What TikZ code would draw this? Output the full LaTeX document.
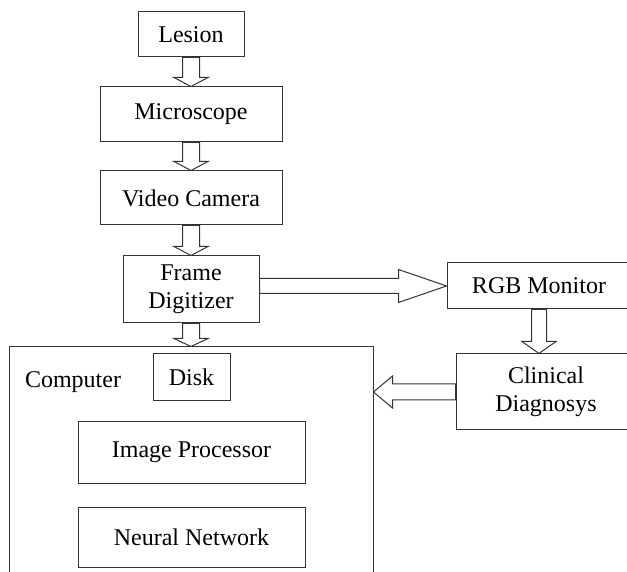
\documentclass[tikz,border=0pt]{standalone}
\usepackage{fontspec}
\setmainfont{Liberation Serif}
\usetikzlibrary{calc}
\tikzstyle{block} = [rectangle, draw=black!80, line width=1pt, align=center, font=\fontsize{24}{28}\selectfont]
\tikzstyle{plain} = [font=\fontsize{24}{28}\selectfont]
% hollow block arrow: {shaft half width}{head half width}{head length}
\tikzset{hollow/.style n args={3}{draw=black!80, line width=1pt, line join=miter, to path={
	let \p1=($(\tikztotarget)!#3!(\tikztostart)$) in
	($(\tikztostart)!#1!90:(\tikztotarget)$) -- ($(\p1)!#1!-90:(\tikztostart)$) -- ($(\p1)!#2!-90:(\tikztostart)$)
	-- (\tikztotarget) -- ($(\p1)!#2!90:(\tikztostart)$) -- ($(\p1)!#1!90:(\tikztostart)$)
	-- ($(\tikztostart)!#1!-90:(\tikztotarget)$) -- cycle}}}

\begin{document}
\begin{tikzpicture}[x=1pt, y=1pt, node distance=80pt]
		\useasboundingbox (0,0) rectangle (627,571);
		\node (lesion) [block, minimum width=106pt, minimum height=45pt] at (191,536.5) {Lesion};
		\node (micro) [block, below of=lesion, minimum width=182pt, minimum height=55pt] {Microscope};
		\node (camera) [block, below of=micro, yshift=-3.5pt, minimum width=182pt, minimum height=54pt] {Video Camera};
		\node (frame) [block, below of=camera, yshift=-11.5pt, minimum width=136pt, minimum height=67pt] {Frame\\Digitizer};
		\node (rgb) [block, right of=frame, xshift=268pt, yshift=3.5pt, minimum width=184pt, minimum height=46pt] {RGB Monitor};
		\node (clinical) [block, below of=rgb, xshift=7pt, yshift=-26pt, minimum width=180pt, minimum height=76pt] {Clinical\\Diagnosys};
		\node (computer) [block, below of=frame, yshift=-104pt, minimum width=364pt, minimum height=253pt] {};
		\node (disk) [block, below of=frame, xshift=0.5pt, yshift=-8pt, minimum width=77pt, minimum height=47pt] {Disk};
		\node (complabel) [plain, left of=disk, xshift=-38.5pt, yshift=-4.5pt] {Computer};
		\node (improc) [block, below of=disk, yshift=5pt, minimum width=227pt, minimum height=61pt] {Image Processor};
		\node (neural) [block, below of=improc, yshift=-4.5pt, minimum width=227pt, minimum height=60pt] {Neural Network};
		\coordinate (frout) at (frame.east |- rgb.west);
		\coordinate (monin) at (rgb.south |- clinical.north);
		\coordinate (compin) at (computer.east |- clinical.west);
		\draw [hollow={8.5pt}{17pt}{9pt}] (lesion.south) to (micro.north);
		\draw [hollow={8.5pt}{17pt}{9pt}] (micro.south) to (camera.north);
		\draw [hollow={8.5pt}{17pt}{9pt}] (camera.south) to (frame.north);
		\draw [hollow={8.5pt}{17pt}{8pt}] (frame.south) to (computer.north);
		\draw [hollow={7.5pt}{16.5pt}{48pt}] (frout) to (rgb.west);
		\draw [hollow={7.5pt}{17pt}{12pt}] (rgb.south) to (monin);
		\draw [hollow={8pt}{16pt}{19pt}] (clinical.west) to (compin);
	\end{tikzpicture}
\end{document}
